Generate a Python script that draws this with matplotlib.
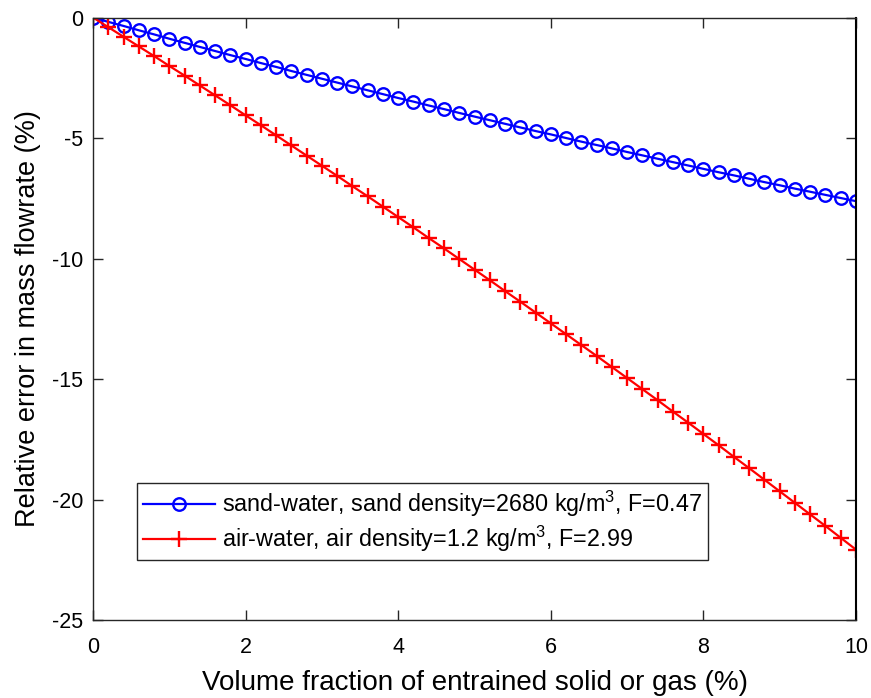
import numpy as np
import matplotlib
matplotlib.use("Agg")
import matplotlib.pyplot as plt

plt.rcParams['font.family'] = ['Liberation Sans', 'DejaVu Sans']
plt.rcParams['mathtext.fontset'] = 'custom'
plt.rcParams['mathtext.rm'] = 'Liberation Sans'
plt.rcParams['axes.unicode_minus'] = False

# volume fraction (%)
frac = [0.0, 0.2, 0.4, 0.6, 0.8, 1.0, 1.2, 1.4, 1.6, 1.8,
        2.0, 2.2, 2.4, 2.6, 2.8, 3.0, 3.2, 3.4, 3.6, 3.8,
        4.0, 4.2, 4.4, 4.6, 4.8, 5.0, 5.2, 5.4, 5.6, 5.8,
        6.0, 6.2, 6.4, 6.6, 6.8, 7.0, 7.2, 7.4, 7.6, 7.8,
        8.0, 8.2, 8.4, 8.6, 8.8, 9.0, 9.2, 9.4, 9.6, 9.8, 10.0]

# relative error (%), sand-water
err_sand = [0.00, -0.18, -0.35, -0.53, -0.70, -0.88, -1.05, -1.22, -1.39, -1.56,
            -1.72, -1.89, -2.05, -2.22, -2.38, -2.54, -2.70, -2.86, -3.02, -3.18,
            -3.34, -3.49, -3.65, -3.80, -3.96, -4.11, -4.26, -4.41, -4.56, -4.71,
            -4.85, -5.00, -5.15, -5.29, -5.43, -5.58, -5.72, -5.86, -6.00, -6.14,
            -6.28, -6.42, -6.55, -6.69, -6.83, -6.96, -7.10, -7.23, -7.36, -7.49, -7.62]

# relative error (%), air-water
err_air = [0.00, -0.40, -0.80, -1.20, -1.60, -2.01, -2.41, -2.82, -3.23, -3.64,
           -4.06, -4.47, -4.89, -5.31, -5.73, -6.15, -6.57, -7.00, -7.42, -7.85,
           -8.28, -8.71, -9.15, -9.58, -10.02, -10.46, -10.90, -11.35, -11.79, -12.24,
           -12.69, -13.14, -13.59, -14.04, -14.50, -14.96, -15.42, -15.88, -16.35, -16.81,
           -17.28, -17.75, -18.23, -18.70, -19.18, -19.66, -20.14, -20.62, -21.10, -21.59, -22.08]

labels = ['sand-water, sand density=2680 kg/m$^3$, F=0.47',
          'air-water, air density=1.2 kg/m$^3$, F=2.99']

fig = plt.figure(figsize=(8.71, 6.98), dpi=100)
ax = fig.add_axes([0.1068, 0.1117, 0.876, 0.8632])

ax.plot(frac, err_sand, color=(0, 0, 1), lw=1.6, marker='o', ms=9,
        mfc='none', mew=1.7, label=labels[0])
ax.plot(frac, err_air, color=(1, 0, 0), lw=1.6, marker='+', ms=11.5,
        mew=1.7, label=labels[1])

ax.set_xlim(0, 10)
ax.set_ylim(-25, 0)
ax.set_xticks(np.arange(0, 11, 2))
ax.set_yticks(np.arange(-25, 1, 5))
ax.tick_params(direction='in', length=7, width=1, top=True, right=True,
               labelsize=15.5, colors='#262626', labelcolor='black')
ax.tick_params(axis='x', pad=12.5)
ax.tick_params(axis='y', pad=7)
for s in ax.spines.values():
    s.set_color('#262626')
    s.set_linewidth(1)
ax.spines['right'].set_color('black')
ax.spines['right'].set_linewidth(1.5)

ax.set_xlabel('Volume fraction of entrained solid or gas (%)', fontsize=20, labelpad=8)
ax.set_ylabel('Relative error in mass flowrate (%)', fontsize=19.5, labelpad=8)

leg = ax.legend(loc='lower left', bbox_to_anchor=(0.0577, 0.0996), borderaxespad=0,
                fontsize=16.8, fancybox=False, framealpha=1, edgecolor='#262626',
                handlelength=3.1, handletextpad=0.3, borderpad=0.25, labelspacing=0.2)
leg.get_frame().set_linewidth(1)

fig.savefig('out.png', dpi=100)
